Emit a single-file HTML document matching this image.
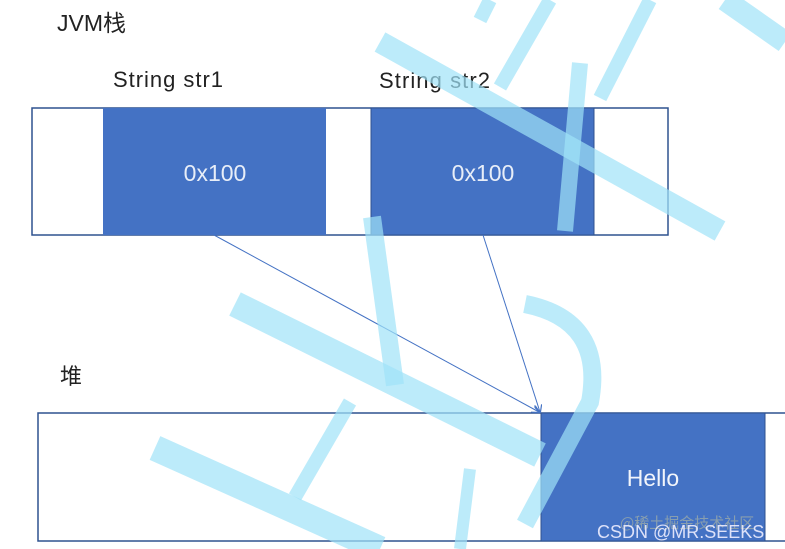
<!DOCTYPE html>
<html><head><meta charset="utf-8"><style>
html,body{margin:0;padding:0;background:#fff;}
body{width:785px;height:549px;overflow:hidden;position:relative;font-family:"Liberation Sans","Noto Sans CJK SC",sans-serif;}
</style></head><body>
<svg width="785" height="549" viewBox="0 0 785 549" xmlns="http://www.w3.org/2000/svg" style="position:absolute;left:0;top:0">
<defs><marker id="ah" markerWidth="8" markerHeight="8" refX="7" refY="4" orient="auto"><path d="M0,0 L8,4 L0,8" fill="none" stroke="#4472c4" stroke-width="1.2"/></marker></defs>
<text x="57" y="31" font-size="23" fill="#222" font-family="Liberation Sans,Noto Sans CJK SC,sans-serif">JVM栈</text>
<text x="113" y="87" font-size="22" fill="#222" textLength="110">String str1</text>
<text x="379" y="88" font-size="22" fill="#222" textLength="111">String str2</text>
<rect x="32" y="108" width="636" height="127" fill="#fff" stroke="#2f528f" stroke-width="1.5"/>
<rect x="103" y="108" width="223" height="127" fill="#4472c4"/>
<rect x="371" y="108" width="223" height="127" fill="#4472c4" stroke="#2f528f" stroke-width="1"/>
<text x="215" y="181" font-size="23" fill="#e8eef8" text-anchor="middle">0x100</text>
<text x="483" y="181" font-size="23" fill="#e8eef8" text-anchor="middle">0x100</text>
<text x="60" y="384" font-size="22" fill="#222" font-family="Noto Sans CJK SC,sans-serif">堆</text>
<rect x="38" y="413" width="760" height="128" fill="#fff" stroke="#2f528f" stroke-width="1.5"/>
<rect x="541" y="413" width="224" height="128" fill="#4472c4" stroke="#2f528f" stroke-width="1"/>
<text x="653" y="486" font-size="23" fill="#f2f5fb" text-anchor="middle">Hello</text>
<line x1="214" y1="235" x2="539" y2="412" stroke="#4472c4" stroke-width="1" marker-end="url(#ah)"/>
<line x1="483" y1="235" x2="540" y2="412" stroke="#4472c4" stroke-width="1" marker-end="url(#ah)"/>
<g stroke="#9fe3f8" stroke-opacity="0.7" fill="none" stroke-linecap="butt">
<path d="M235,304 L540,455" stroke-width="26"/>
<path d="M155,448 L380,549" stroke-width="26"/>
<path d="M380,42 L720,231" stroke-width="22"/>
<path d="M725,0 L785,42" stroke-width="22"/>
<path d="M580,63 L565,231" stroke-width="16"/>
<path d="M372,217 L395,385" stroke-width="18"/>
<path d="M525,304 Q605,320 590,402 L525,524" stroke-width="18"/>
<path d="M350,402 L295,497" stroke-width="14"/>
<path d="M470,469 L460,549" stroke-width="12"/>
<path d="M650,0 L600,98" stroke-width="14"/>
<path d="M550,0 L500,87" stroke-width="14"/>
<path d="M490,0 L480,20" stroke-width="14"/>
</g>
<text x="620" y="528" font-size="15" fill="#9aa" opacity="0.8" font-family="Noto Sans CJK SC,sans-serif">@稀土掘金技术社区</text>
<text x="597" y="538" font-size="18" fill="#eef" opacity="0.9">CSDN @MR.SEEKS</text>
</svg>
</body></html>
